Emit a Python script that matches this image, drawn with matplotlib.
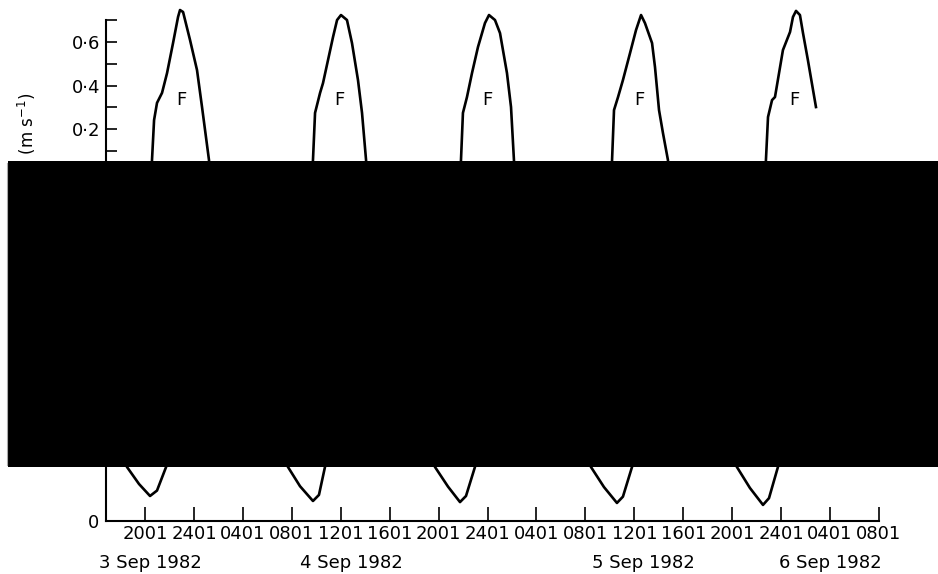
import numpy as np
import matplotlib
matplotlib.use("Agg")
import matplotlib.pyplot as plt
from matplotlib.patches import Rectangle
from matplotlib.lines import Line2D
from matplotlib.transforms import blended_transform_factory

# ---------------- data (hours after 00:00, 3 Sep 1982) ----------------
# upper panel: flood current speed (m s^-1), visible parts of each flood peak
f1_hours = [20.47, 20.57, 20.74, 20.98, 21.39, 21.80, 22.29, 22.70, 22.86, 23.11, 23.68, 24.25, 24.66, 25.23, 25.33]
f1_speed = [-0.06, 0.057, 0.241, 0.320, 0.366, 0.457, 0.595, 0.715, 0.747, 0.738, 0.609, 0.471, 0.301, 0.057, -0.06]
f2_hours = [33.63, 33.73, 33.90, 34.31, 34.55, 34.96, 35.37, 35.70, 36.02, 36.51, 36.92, 37.41, 37.74, 38.07, 38.17]
f2_speed = [-0.06, 0.057, 0.274, 0.366, 0.411, 0.517, 0.623, 0.701, 0.724, 0.701, 0.595, 0.425, 0.274, 0.057, -0.06]
f3_hours = [45.73, 45.83, 45.99, 46.32, 46.73, 47.22, 47.79, 48.12, 48.61, 49.02, 49.59, 49.92, 50.16, 50.26]
f3_speed = [-0.06, 0.057, 0.274, 0.347, 0.457, 0.577, 0.687, 0.724, 0.701, 0.641, 0.457, 0.301, 0.057, -0.06]
f4_hours = [58.08, 58.18, 58.34, 58.67, 59.07, 59.65, 60.14, 60.55, 60.87, 61.45, 61.69, 62.02, 62.34, 62.75, 62.85]
f4_speed = [-0.06, 0.057, 0.287, 0.347, 0.425, 0.549, 0.655, 0.724, 0.687, 0.595, 0.485, 0.287, 0.182, 0.057, -0.06]
f5_hours = [70.66, 70.76, 70.93, 71.26, 71.50, 72.15, 72.73, 72.97, 73.22, 73.54, 73.79, 74.19, 74.85]
f5_speed = [-0.06, 0.057, 0.255, 0.333, 0.347, 0.563, 0.646, 0.715, 0.743, 0.724, 0.641, 0.517, 0.301]

# lower panel: visible minima of each cycle
e1_hours = [18.13, 18.53, 19.51, 20.41, 20.98, 21.72, 21.92]
e1_value = [0.29, 0.248, 0.170, 0.115, 0.140, 0.248, 0.29]
e2_hours = [31.29, 31.69, 32.67, 33.73, 34.22, 34.71, 34.91]
e2_value = [0.29, 0.248, 0.160, 0.092, 0.120, 0.248, 0.29]
e3_hours = [43.31, 43.71, 44.77, 45.75, 46.24, 46.97, 47.17]
e3_value = [0.29, 0.248, 0.158, 0.087, 0.115, 0.248, 0.29]
e4_hours = [56.06, 56.46, 57.52, 58.58, 59.07, 59.81, 60.01]
e4_value = [0.29, 0.248, 0.156, 0.083, 0.112, 0.248, 0.29]
e5_hours = [67.99, 68.39, 69.45, 70.52, 71.01, 71.74, 71.94]
e5_value = [0.29, 0.248, 0.152, 0.074, 0.105, 0.248, 0.29]

tick_hours = [20, 24, 28, 32, 36, 40, 44, 48, 52, 56, 60, 64, 68, 72, 76, 80]
tick_labels = ["2001", "2401", "0401", "0801", "1201", "1601",
               "2001", "2401", "0401", "0801", "1201", "1601",
               "2001", "2401", "0401", "0801"]
date_labels = ["3 Sep 1982", "4 Sep 1982", "5 Sep 1982", "6 Sep 1982"]
date_hours = [20.4, 36.9, 60.7, 76.0]
speed_ticks = [0.2, 0.4, 0.6]
speed_tick_labels = ["0·2", "0·4", "0·6"]
speed_minor = [0.1, 0.3, 0.5, 0.7]
flood_label_hours = [23.0, 35.85, 48.0, 60.4, 73.05]
flood_label_speed = 0.333

# ---------------- figure ----------------
W, H = 938, 574
fig = plt.figure(figsize=(W / 100, H / 100), dpi=100)
fig.patch.set_facecolor("white")

def fx(px):
    return px / W

def fy(py):
    return 1 - py / H

xlim = (16.81, 81.72)
lw_curve = 1.9
lw_axis = 1.5

ax_top = fig.add_axes([fx(106), fy(200), fx(900) - fx(106), fy(5) - fy(200)])
ax_bot = fig.add_axes([fx(106), fy(521), fx(900) - fx(106), fy(430) - fy(521)])

def join(parts):
    out = []
    for p in parts:
        out.extend(p)
        out.append(np.nan)
    return np.array(out[:-1], dtype=float)

ft = join([f1_hours, f2_hours, f3_hours, f4_hours, f5_hours])
fv = join([f1_speed, f2_speed, f3_speed, f4_speed, f5_speed])
et = join([e1_hours, e2_hours, e3_hours, e4_hours, e5_hours])
ev = join([e1_value, e2_value, e3_value, e4_value, e5_value])

ax_top.plot(ft, fv, color="black", lw=lw_curve, solid_joinstyle="round", clip_on=False)
ax_bot.plot(et, ev, color="black", lw=lw_curve, solid_joinstyle="round", clip_on=False)

tick_font = dict(family=["Liberation Sans Narrow", "DejaVu Sans"])

# top axes
ax_top.set_xlim(*xlim)
ax_top.set_ylim(-0.1264, 0.7701)
for s in ["top", "right", "bottom"]:
    ax_top.spines[s].set_visible(False)
ax_top.spines["left"].set_bounds(-0.1264, 0.7)
ax_top.spines["left"].set_linewidth(lw_axis)
ax_top.set_xticks([])
ax_top.set_yticks(speed_ticks)
ax_top.set_yticklabels(speed_tick_labels, fontsize=13)
ax_top.set_yticks(speed_minor, minor=True)
ax_top.tick_params(axis="y", which="both", direction="in", length=8, width=1.2, pad=4)
for t in flood_label_hours:
    ax_top.text(t, flood_label_speed, "F", ha="center", va="center", fontsize=13)
ax_top.patch.set_alpha(0)

# bottom axes
ax_bot.set_xlim(*xlim)
ax_bot.set_ylim(0, 0.4184)
for s in ["top", "right"]:
    ax_bot.spines[s].set_visible(False)
ax_bot.spines["bottom"].set_bounds(xlim[0], tick_hours[-1])
ax_bot.spines["bottom"].set_linewidth(lw_axis)
ax_bot.spines["left"].set_linewidth(lw_axis)
ax_bot.set_xticks(tick_hours)
ax_bot.set_xticklabels(tick_labels, fontsize=13, **tick_font)
ax_bot.tick_params(axis="x", direction="in", length=10, width=1.2, pad=3)
ax_bot.set_yticks([0])
ax_bot.set_yticklabels(["0"], fontsize=13)
ax_bot.tick_params(axis="y", length=0, pad=5)
ax_bot.patch.set_alpha(0)

trans = blended_transform_factory(ax_bot.transData, fig.transFigure)
for t, lab in zip(date_hours, date_labels):
    ax_bot.text(t, fy(563), lab, transform=trans, ha="center", va="center", fontsize=13)

fig.text(fx(28), fy(93), "Current speed (m s$^{-1}$)", rotation=90,
         ha="center", va="top", fontsize=12)

# occluding block
fig.add_artist(Rectangle((fx(8), fy(467)), 1.01 - fx(8), fy(161) - fy(467),
                         transform=fig.transFigure, facecolor="black",
                         edgecolor="none", zorder=20))
fig.add_artist(Line2D([fx(6.5), fx(6.5)], [fy(465), fy(163)], transform=fig.transFigure,
                      color="#aaaaaa", lw=0.8, zorder=20))

fig.savefig("out.png", dpi=100)
